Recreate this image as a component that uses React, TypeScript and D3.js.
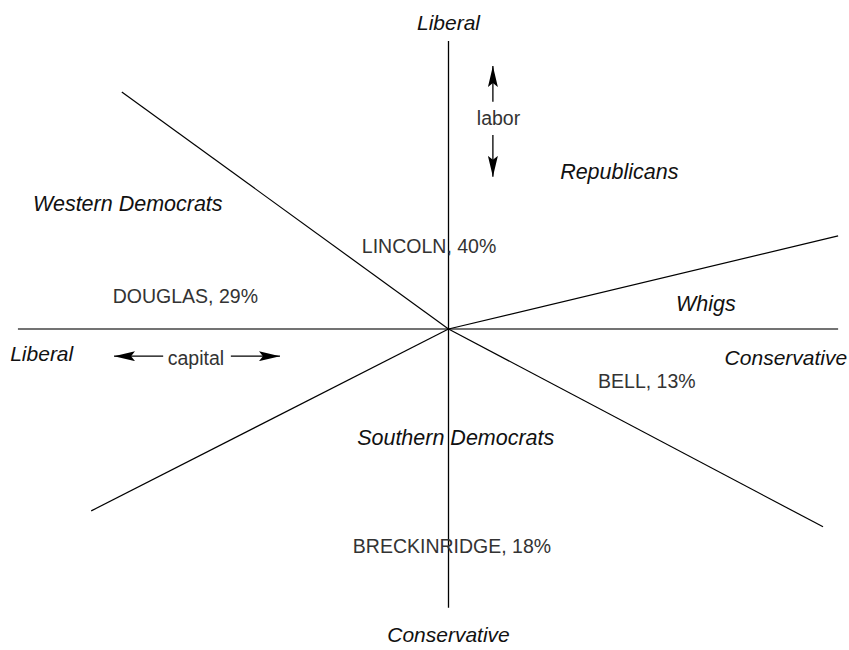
import * as d3 from 'd3'
import { useEffect, useRef } from 'react'

const width = 849, height = 650

// ideological space, origin at the crossing of the axes
const axisH = [[-99.9, 0], [90.4, 0]]
const axisV = [[0, 66.8], [0, -64.7]]
const rays = [
  [-75.8, 55.0],
  [90.4, 21.6],
  [86.9, -45.9],
  [-82.9, -42.2],
]

const candidates = ['LINCOLN, 40%', 'DOUGLAS, 29%', 'BELL, 13%', 'BRECKINRIDGE, 18%']
const candidatePos = [[-20.1, 17.6], [-77.9, 6.0], [34.7, -13.7], [-22.2, -52.0]]

const groups = ['Western Democrats', 'Republicans', 'Whigs', 'Southern Democrats']
const groupPos = [[-96.4, 27.4], [25.9, 34.8], [52.8, 4.2], [-21.2, -26.9]]

const poles = ['Liberal', 'Liberal', 'Conservative', 'Conservative']
const polePos = [[0, 69.4], [-101.7, -7.4], [92.5, -8.4], [0, -72.6]]
const poleAnchor = ['middle', 'start', 'end', 'middle']

// arrows: [from, to]
const laborArrows = [[[10.3, 52.7], [10.3, 61.0]], [[10.3, 45.0], [10.3, 35.3]]]
const laborLabel = [11.6, 47.3]
const capitalArrows = [[[-66.2, -6.3], [-77.6, -6.3]], [[-50.5, -6.3], [-39.1, -6.3]]]
const capitalLabel = [-58.6, -8.4]

const u = 4.31
const cx = 448.5, cy = 329
const x = d3.scaleLinear().domain([-100, 100]).range([cx - 100 * u, cx + 100 * u])
const y = d3.scaleLinear().domain([-100, 100]).range([cy + 100 * u, cy - 100 * u])

const chart = (node: SVGSVGElement) => {
  const svg = d3.select(node)
  svg.selectAll('*').remove()

  svg.append('defs').append('marker')
    .attr('id', 'head')
    .attr('viewBox', '0 0 21 10')
    .attr('refX', 21).attr('refY', 5)
    .attr('markerWidth', 21).attr('markerHeight', 10)
    .attr('markerUnits', 'userSpaceOnUse')
    .attr('orient', 'auto')
    .append('path')
    .attr('d', 'M0,0 L21,5 L0,10 L4,5 Z')
    .attr('fill', '#000')

  const line = d3.line<number[]>().x(d => x(d[0])).y(d => y(d[1]))

  const g = svg.append('g').attr('stroke', '#000').attr('fill', 'none')
  g.append('path').attr('d', line(axisH)).attr('stroke', '#444').attr('stroke-width', 1.5)
  g.append('path').attr('d', line(axisV)).attr('stroke-width', 1.3)
  g.selectAll('path.ray')
    .data(rays)
    .join('path')
    .attr('class', 'ray')
    .attr('d', d => line([[0, 0], d]))
    .attr('stroke-width', 1.2)

  const text = svg.append('g')
    .attr('font-family', '"Liberation Sans", Arial, sans-serif')

  text.selectAll('text.cand')
    .data(candidates)
    .join('text')
    .attr('class', 'cand')
    .attr('x', (d, i) => x(candidatePos[i][0]))
    .attr('y', (d, i) => y(candidatePos[i][1]))
    .attr('font-size', 19.5)
    .attr('fill', '#333')
    .text(d => d)

  text.selectAll('text.grp')
    .data(groups)
    .join('text')
    .attr('class', 'grp')
    .attr('x', (d, i) => x(groupPos[i][0]))
    .attr('y', (d, i) => y(groupPos[i][1]))
    .attr('font-size', 21.5)
    .attr('font-style', 'italic')
    .attr('fill', '#111')
    .text(d => d)

  text.selectAll('text.pole')
    .data(poles)
    .join('text')
    .attr('class', 'pole')
    .attr('x', (d, i) => x(polePos[i][0]))
    .attr('y', (d, i) => y(polePos[i][1]))
    .attr('text-anchor', (d, i) => poleAnchor[i])
    .attr('font-size', 21)
    .attr('font-style', 'italic')
    .attr('fill', '#111')
    .text(d => d)

  text.append('text')
    .attr('x', x(laborLabel[0])).attr('y', y(laborLabel[1]))
    .attr('text-anchor', 'middle').attr('font-size', 19.5).attr('fill', '#333')
    .text('labor')
  text.append('text')
    .attr('x', x(capitalLabel[0])).attr('y', y(capitalLabel[1]))
    .attr('text-anchor', 'middle').attr('font-size', 19.5).attr('fill', '#333')
    .text('capital')

  svg.append('g').attr('stroke', '#000').attr('stroke-width', 1.3)
    .selectAll('path')
    .data([...laborArrows, ...capitalArrows])
    .join('path')
    .attr('d', d => line(d))
    .attr('marker-end', 'url(#head)')
}

export default function App() {
  const ref = useRef<SVGSVGElement>(null)
  useEffect(() => {
    if (ref.current) chart(ref.current)
  }, [])
  return (
    <svg ref={ref} width={width} height={height}
      style={{ position: 'absolute', left: 0, top: 0, background: '#fff' }} />
  )
}
